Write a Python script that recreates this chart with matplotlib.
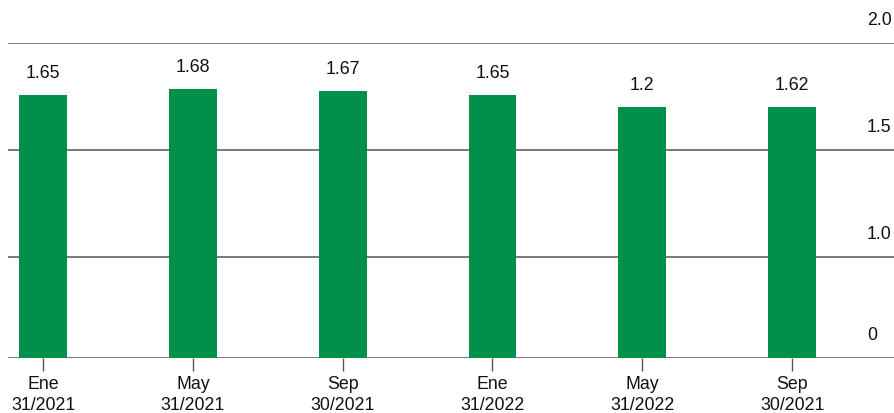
import numpy as np
import matplotlib
matplotlib.use('Agg')
import matplotlib.pyplot as plt
from matplotlib.scale import FuncScale

# Datos
categorias = ['Ene\n31/2021', 'May\n31/2021', 'Sep\n30/2021',
              'Ene\n31/2022', 'May\n31/2022', 'Sep\n30/2021']
alturas = [1.755, 1.783, 1.773, 1.755, 1.70, 1.70]   # altura dibujada de cada barra
etiquetas = ['1.65', '1.68', '1.67', '1.65', '1.2', '1.62']
ticks_y = [0, 1.0, 1.5, 2.0]
ticks_y_txt = ['0', '1.0', '1.5', '2.0']

verde = '#00904C'
gris = '#555555'

plt.rcParams['font.family'] = ['Liberation Sans', 'DejaVu Sans']
plt.rcParams['font.size'] = 12.8

# escala del eje: los tramos 0-1.0, 1.0-1.5 y 1.5-2.0 no son proporcionales
_v = [-1.0, 0.0, 1.0, 1.5, 2.0, 3.0]
_p = [-101, 0, 101, 208, 315, 529]


def fwd(v):
    return np.interp(v, _v, _p)


def inv(p):
    return np.interp(p, _p, _v)


fig = plt.figure(figsize=(8.94, 4.13), dpi=100)
ax = fig.add_axes([8 / 894, 55.5 / 413, 1 - 8 / 894, 315 / 413])
ax.set_yscale(FuncScale(ax, (fwd, inv)))

x = np.arange(len(categorias))
ax.bar(x, alturas, width=0.32, color=verde, zorder=2)

ax.set_xlim(-0.234, 5.68)
ax.set_ylim(0, 2.0)

for xi, h, t in zip(x, alturas, etiquetas):
    ax.annotate(t, (xi, h), xytext=(0, 15.5), textcoords='offset points',
                ha='center', va='center', color='#111111')

# lineas de referencia y etiquetas a la derecha
for v, t in zip(ticks_y, ticks_y_txt):
    ax.axhline(v, color=gris, lw=1.1, zorder=1)
    ax.annotate(t, xy=(867, v), xycoords=('figure pixels', 'data'),
                xytext=(0, 15.5), textcoords='offset points',
                ha='left', va='center', color='#111111', annotation_clip=False)

ax.set_yticks([])
ax.set_xticks(x)
ax.set_xticklabels(categorias, linespacing=1.3, color='#111111')
ax.tick_params(axis='x', length=9.5, width=1, color=gris, pad=4)

for s in ax.spines.values():
    s.set_visible(False)

fig.savefig('out.png', dpi=100)
